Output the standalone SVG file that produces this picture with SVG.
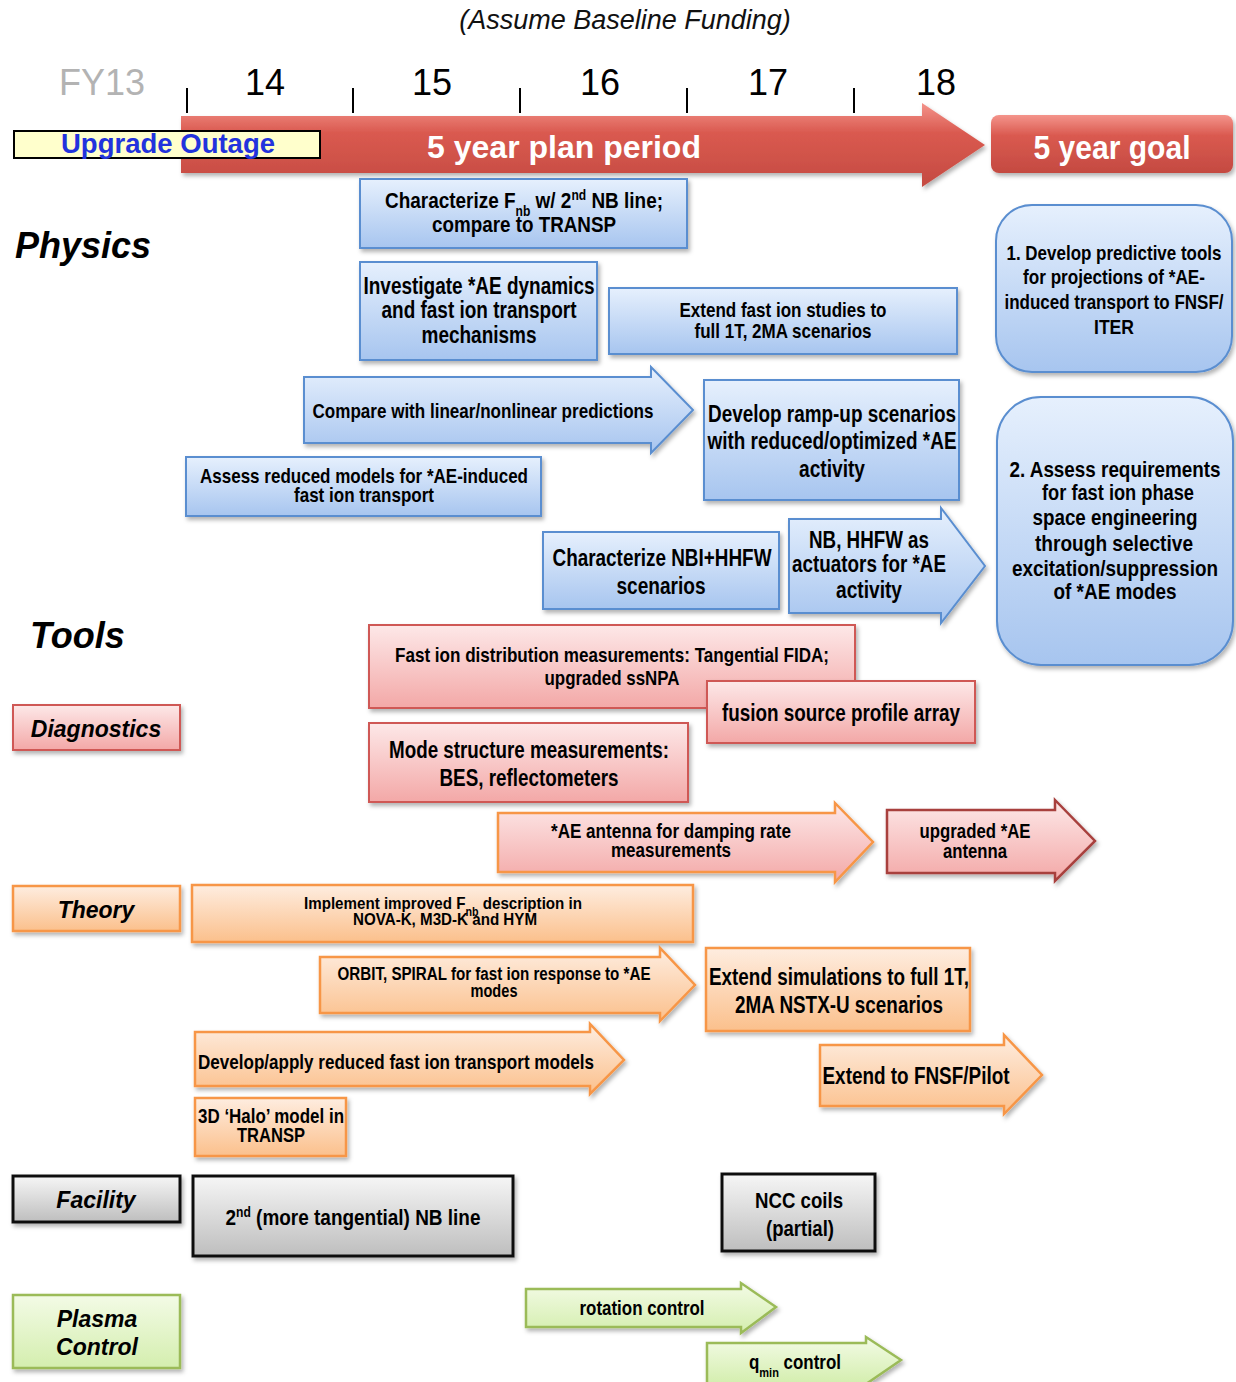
<svg xmlns="http://www.w3.org/2000/svg" width="1236" height="1382" viewBox="0 0 1236 1382">
<defs>
<linearGradient id="gBlue" x1="0" y1="0" x2="0" y2="1"><stop offset="0" stop-color="#E6F0FD"/><stop offset="1" stop-color="#A7C5EF"/></linearGradient>
<linearGradient id="gPink" x1="0" y1="0" x2="0" y2="1"><stop offset="0" stop-color="#FDE8E8"/><stop offset="1" stop-color="#F3A8A7"/></linearGradient>
<linearGradient id="gOrange" x1="0" y1="0" x2="0" y2="1"><stop offset="0" stop-color="#FEEDE0"/><stop offset="1" stop-color="#FBC08C"/></linearGradient>
<linearGradient id="gGray" x1="0" y1="0" x2="0" y2="1"><stop offset="0" stop-color="#F6F6F6"/><stop offset="1" stop-color="#BEBEBE"/></linearGradient>
<linearGradient id="gGreen" x1="0" y1="0" x2="0" y2="1"><stop offset="0" stop-color="#F3FBE6"/><stop offset="1" stop-color="#D4EEAE"/></linearGradient>
<linearGradient id="gRed" x1="0" y1="0" x2="0" y2="1"><stop offset="0" stop-color="#F4948B"/><stop offset="0.35" stop-color="#DA5A50"/><stop offset="1" stop-color="#C44A41"/></linearGradient>
<filter id="sh" x="-10%" y="-10%" width="125%" height="135%"><feDropShadow dx="2" dy="3" stdDeviation="2" flood-color="#000" flood-opacity="0.3"/></filter>
</defs>
<style>
.t{font-family:"Liberation Sans",Arial,sans-serif;font-weight:bold;fill:#000;text-anchor:middle}
.w{font-family:"Liberation Sans",Arial,sans-serif}
.lab{font-family:"Liberation Sans",Arial,sans-serif;font-weight:bold;font-style:italic;text-anchor:middle;font-size:23px}
.blue{fill:url(#gBlue);stroke:#5A8ED0;stroke-width:2;filter:url(#sh)}
.pink{fill:url(#gPink);stroke:#CF5855;stroke-width:2;filter:url(#sh)}
.orange{fill:url(#gOrange);stroke:#F79646;stroke-width:2.5;filter:url(#sh)}
.gray{fill:url(#gGray);stroke:#111;stroke-width:3;filter:url(#sh)}
.green{fill:url(#gGreen);stroke:#9BBB59;stroke-width:2.5;filter:url(#sh)}
.tick{stroke:#000;stroke-width:2}
</style>

<g id="header">
<text x="625" y="29" class="w" font-size="27" font-style="italic" text-anchor="middle" fill="#111">(Assume Baseline Funding)</text>
<text x="102" y="95" class="w" font-size="36" text-anchor="middle" fill="#B3B3B3">FY13</text>
<text x="265" y="95" class="w" font-size="36" text-anchor="middle">14</text>
<text x="432" y="95" class="w" font-size="36" text-anchor="middle">15</text>
<text x="600" y="95" class="w" font-size="36" text-anchor="middle">16</text>
<text x="768" y="95" class="w" font-size="36" text-anchor="middle">17</text>
<text x="936" y="95" class="w" font-size="36" text-anchor="middle">18</text>
<line class="tick" x1="187" y1="88" x2="187" y2="113"/>
<line class="tick" x1="353" y1="88" x2="353" y2="113"/>
<line class="tick" x1="520" y1="88" x2="520" y2="113"/>
<line class="tick" x1="687" y1="88" x2="687" y2="113"/>
<line class="tick" x1="854" y1="88" x2="854" y2="113"/>
</g>

<g id="plan-arrow">
<path d="M181 116 H922 V103 L985 145 L922 187 V173 H181 Z" fill="url(#gRed)" filter="url(#sh)"/>
<text x="564" y="158" class="w" font-size="32" font-weight="bold" fill="#fff" text-anchor="middle">5 year plan period</text>
</g>
<g id="outage">
<rect x="14" y="131" width="306" height="27" fill="#FFFFCC" stroke="#000" stroke-width="2"/>
<text x="168" y="153" class="w" font-size="27" font-weight="bold" fill="#2233DD" text-anchor="middle" textLength="214" lengthAdjust="spacingAndGlyphs">Upgrade Outage</text>
</g>
<g id="goal-header">
<rect x="991" y="115" width="242" height="58" rx="8" fill="url(#gRed)" filter="url(#sh)"/>
<text x="1112" y="159" class="w" font-size="33" font-weight="bold" fill="#fff" text-anchor="middle" textLength="157" lengthAdjust="spacingAndGlyphs">5 year goal</text>
</g>

<g id="section-labels">
<text x="15" y="258" class="w" font-size="36" font-weight="bold" font-style="italic">Physics</text>
<text x="30" y="648" class="w" font-size="36" font-weight="bold" font-style="italic">Tools</text>
</g>

<!-- Physics -->
<g id="p-char-fnb">
<rect class="blue" x="360" y="179" width="327" height="69"/>
<text class="t" font-size="22" x="524" y="208" textLength="278" lengthAdjust="spacingAndGlyphs">Characterize F<tspan font-size="14" baseline-shift="sub">nb</tspan> w/ 2<tspan font-size="14" baseline-shift="super">nd</tspan> NB line;</text>
<text class="t" font-size="22" x="524" y="232" textLength="184" lengthAdjust="spacingAndGlyphs">compare to TRANSP</text>
</g>
<g id="p-investigate">
<rect class="blue" x="360" y="262" width="237" height="98"/>
<text class="t" font-size="23" x="479" y="294" textLength="231" lengthAdjust="spacingAndGlyphs">Investigate *AE dynamics</text>
<text class="t" font-size="23" x="479" y="318" textLength="195" lengthAdjust="spacingAndGlyphs">and fast ion transport</text>
<text class="t" font-size="23" x="479" y="343" textLength="115" lengthAdjust="spacingAndGlyphs">mechanisms</text>
</g>
<g id="p-extend">
<rect class="blue" x="609" y="288" width="348" height="66"/>
<text class="t" font-size="21" x="783" y="317" textLength="207" lengthAdjust="spacingAndGlyphs">Extend fast ion studies to</text>
<text class="t" font-size="21" x="783" y="338" textLength="177" lengthAdjust="spacingAndGlyphs">full 1T, 2MA scenarios</text>
</g>
<g id="p-compare">
<path class="blue" d="M304 377 H651 V367 L693 410 L651 453 V443 H304 Z"/>
<text class="t" font-size="21" x="483" y="418" textLength="341" lengthAdjust="spacingAndGlyphs">Compare with linear/nonlinear predictions</text>
</g>
<g id="p-rampup">
<rect class="blue" x="704" y="380" width="255" height="120"/>
<text class="t" font-size="23" x="832" y="422" textLength="248" lengthAdjust="spacingAndGlyphs">Develop ramp-up scenarios</text>
<text class="t" font-size="23" x="832" y="449" textLength="249" lengthAdjust="spacingAndGlyphs">with reduced/optimized *AE</text>
<text class="t" font-size="23" x="832" y="477" textLength="66" lengthAdjust="spacingAndGlyphs">activity</text>
</g>
<g id="p-assess">
<rect class="blue" x="186" y="457" width="355" height="59"/>
<text class="t" font-size="21" x="364" y="483" textLength="328" lengthAdjust="spacingAndGlyphs">Assess reduced models for *AE-induced</text>
<text class="t" font-size="21" x="364" y="502" textLength="140" lengthAdjust="spacingAndGlyphs">fast ion transport</text>
</g>
<g id="p-nbi-hhfw">
<rect class="blue" x="543" y="532" width="236" height="77"/>
<text class="t" font-size="23" x="662" y="566" textLength="219" lengthAdjust="spacingAndGlyphs">Characterize NBI+HHFW</text>
<text class="t" font-size="23" x="661" y="594" textLength="89" lengthAdjust="spacingAndGlyphs">scenarios</text>
</g>
<g id="p-actuators">
<path class="blue" d="M789 519 H941 V508 L985 566 L941 623 V613 H789 Z"/>
<text class="t" font-size="23" x="869" y="548" textLength="120" lengthAdjust="spacingAndGlyphs">NB, HHFW as</text>
<text class="t" font-size="23" x="869" y="572" textLength="154" lengthAdjust="spacingAndGlyphs">actuators for *AE</text>
<text class="t" font-size="23" x="869" y="598" textLength="66" lengthAdjust="spacingAndGlyphs">activity</text>
</g>
<g id="goal-1">
<rect class="blue" x="996" y="205" width="236" height="167" rx="36"/>
<text class="t" font-size="21" x="1114" y="260" textLength="215" lengthAdjust="spacingAndGlyphs">1. Develop predictive tools</text>
<text class="t" font-size="21" x="1114" y="284" textLength="182" lengthAdjust="spacingAndGlyphs">for projections of *AE-</text>
<text class="t" font-size="21" x="1114" y="309" textLength="219" lengthAdjust="spacingAndGlyphs">induced transport to FNSF/</text>
<text class="t" font-size="21" x="1114" y="334" textLength="40" lengthAdjust="spacingAndGlyphs">ITER</text>
</g>
<g id="goal-2">
<rect class="blue" x="997" y="397" width="236" height="268" rx="44"/>
<text class="t" font-size="22" x="1115" y="477" textLength="211" lengthAdjust="spacingAndGlyphs">2. Assess requirements</text>
<text class="t" font-size="22" x="1118" y="500" textLength="152" lengthAdjust="spacingAndGlyphs">for fast ion phase</text>
<text class="t" font-size="22" x="1115" y="525" textLength="165" lengthAdjust="spacingAndGlyphs">space engineering</text>
<text class="t" font-size="22" x="1114" y="551" textLength="158" lengthAdjust="spacingAndGlyphs">through selective</text>
<text class="t" font-size="22" x="1115" y="576" textLength="206" lengthAdjust="spacingAndGlyphs">excitation/suppression</text>
<text class="t" font-size="22" x="1115" y="599" textLength="123" lengthAdjust="spacingAndGlyphs">of *AE modes</text>
</g>

<!-- Diagnostics -->
<g id="lab-diagnostics">
<rect class="pink" x="13" y="705" width="167" height="45"/>
<text class="lab" x="96" y="737">Diagnostics</text>
</g>
<g id="d-fastion">
<rect class="pink" x="369" y="625" width="486" height="83"/>
<text class="t" font-size="20.5" x="612" y="662" textLength="434" lengthAdjust="spacingAndGlyphs">Fast ion distribution measurements: Tangential FIDA;</text>
<text class="t" font-size="20.5" x="612" y="685" textLength="135" lengthAdjust="spacingAndGlyphs">upgraded ssNPA</text>
</g>
<g id="d-fusion">
<rect class="pink" x="707" y="681" width="268" height="62"/>
<text class="t" font-size="23" x="841" y="721" textLength="238" lengthAdjust="spacingAndGlyphs">fusion source profile array</text>
</g>
<g id="d-mode">
<rect class="pink" x="369" y="723" width="319" height="79"/>
<text class="t" font-size="23" x="529" y="758" textLength="280" lengthAdjust="spacingAndGlyphs">Mode structure measurements:</text>
<text class="t" font-size="23" x="529" y="786" textLength="179" lengthAdjust="spacingAndGlyphs">BES, reflectometers</text>
</g>
<g id="d-antenna">
<path d="M498 813 H835 V803 L873 842 L835 882 V872 H498 Z" fill="url(#gPink)" stroke="#F79646" stroke-width="2.5" filter="url(#sh)"/>
<text class="t" font-size="20" x="671" y="838" textLength="240" lengthAdjust="spacingAndGlyphs">*AE antenna for damping rate</text>
<text class="t" font-size="20" x="671" y="857" textLength="120" lengthAdjust="spacingAndGlyphs">measurements</text>
</g>
<g id="d-upgraded-antenna">
<path d="M887 810 H1055 V800 L1095 841 L1055 881 V873 H887 Z" fill="url(#gPink)" stroke="#A8413E" stroke-width="2.5" filter="url(#sh)"/>
<text class="t" font-size="20" x="975" y="838" textLength="111" lengthAdjust="spacingAndGlyphs">upgraded *AE</text>
<text class="t" font-size="20" x="975" y="858" textLength="64" lengthAdjust="spacingAndGlyphs">antenna</text>
</g>

<!-- Theory -->
<g id="lab-theory">
<rect class="orange" x="13" y="886" width="167" height="45"/>
<text class="lab" x="96" y="918">Theory</text>
</g>
<g id="t-implement">
<rect class="orange" x="192" y="885" width="501" height="57"/>
<text class="t" font-size="17" x="443" y="909" textLength="278" lengthAdjust="spacingAndGlyphs">Implement improved F<tspan font-size="12" baseline-shift="sub">nb</tspan> description in</text>
<text class="t" font-size="17" x="445" y="925" textLength="184" lengthAdjust="spacingAndGlyphs">NOVA-K, M3D-K and HYM</text>
</g>
<g id="t-orbit">
<path class="orange" d="M320 957 H660 V948 L695 985 L660 1021 V1013 H320 Z"/>
<text class="t" font-size="18" x="494" y="980" textLength="313" lengthAdjust="spacingAndGlyphs">ORBIT, SPIRAL for fast ion response to *AE</text>
<text class="t" font-size="18" x="494" y="997" textLength="47" lengthAdjust="spacingAndGlyphs">modes</text>
</g>
<g id="t-extend-sim">
<rect class="orange" x="706" y="948" width="264" height="83"/>
<text class="t" font-size="23" x="839" y="985" textLength="260" lengthAdjust="spacingAndGlyphs">Extend simulations to full 1T,</text>
<text class="t" font-size="23" x="839" y="1013" textLength="208" lengthAdjust="spacingAndGlyphs">2MA NSTX-U scenarios</text>
</g>
<g id="t-reduced">
<path class="orange" d="M195 1032 H590 V1024 L624 1060 L590 1094 V1086 H195 Z"/>
<text class="t" font-size="21" x="396" y="1069" textLength="396" lengthAdjust="spacingAndGlyphs">Develop/apply reduced fast ion transport models</text>
</g>
<g id="t-halo">
<rect class="orange" x="195" y="1098" width="151" height="58"/>
<text class="t" font-size="20" x="271" y="1123" textLength="146" lengthAdjust="spacingAndGlyphs">3D ‘Halo’ model in</text>
<text class="t" font-size="20" x="271" y="1142" textLength="68" lengthAdjust="spacingAndGlyphs">TRANSP</text>
</g>
<g id="t-fnsf">
<path class="orange" d="M820 1045 H1004 V1035 L1042 1075 L1004 1114 V1106 H820 Z"/>
<text class="t" font-size="23" x="916" y="1084" textLength="187" lengthAdjust="spacingAndGlyphs">Extend to FNSF/Pilot</text>
</g>

<!-- Facility -->
<g id="lab-facility">
<rect class="gray" x="13" y="1176" width="167" height="46"/>
<text class="lab" x="96" y="1208">Facility</text>
</g>
<g id="f-nbline">
<rect class="gray" x="193" y="1176" width="320" height="80"/>
<text class="t" font-size="22" x="353" y="1225" textLength="255" lengthAdjust="spacingAndGlyphs">2<tspan font-size="14" baseline-shift="super">nd</tspan> (more tangential) NB line</text>
</g>
<g id="f-ncc">
<rect class="gray" x="722" y="1174" width="153" height="77"/>
<text class="t" font-size="22" x="799" y="1208" textLength="88" lengthAdjust="spacingAndGlyphs">NCC coils</text>
<text class="t" font-size="22" x="800" y="1236" textLength="68" lengthAdjust="spacingAndGlyphs">(partial)</text>
</g>

<!-- Plasma control -->
<g id="lab-plasma-control">
<rect class="green" x="13" y="1295" width="167" height="73"/>
<text class="lab" x="97" y="1327">Plasma</text>
<text class="lab" x="97" y="1355">Control</text>
</g>
<g id="c-rotation">
<path class="green" d="M526 1289 H741 V1283 L776 1307 L741 1333 V1327 H526 Z"/>
<text class="t" font-size="20" x="642" y="1315" textLength="125" lengthAdjust="spacingAndGlyphs">rotation control</text>
</g>
<g id="c-qmin">
<path class="green" d="M707 1343 H866 V1337 L901 1360 L866 1384 V1384 H707 Z"/>
<text class="t" font-size="20" x="795" y="1369" textLength="92" lengthAdjust="spacingAndGlyphs">q<tspan font-size="13" baseline-shift="sub">min</tspan> control</text>
</g>

<g id="connectors"></g>
</svg>
